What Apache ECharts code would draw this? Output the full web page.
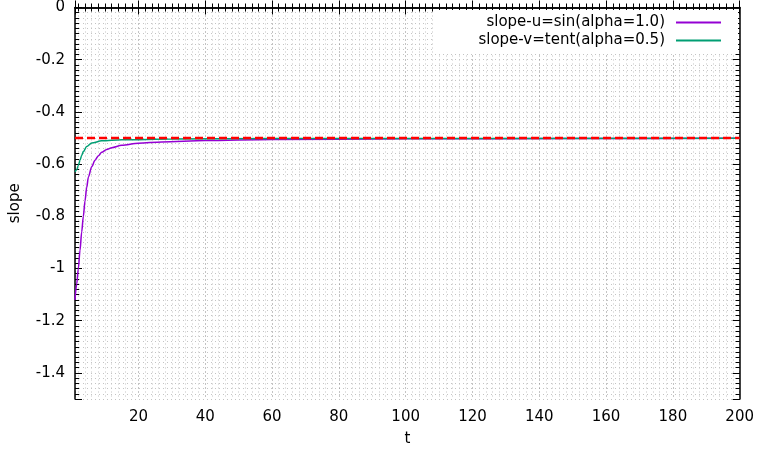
<!DOCTYPE html>
<html>
<head>
<meta charset="utf-8">
<script src="https://cdn.jsdelivr.net/npm/echarts@6/dist/echarts.min.js"></script>
<style>
html, body { margin: 0; padding: 0; background: #fff; }
#main { width: 757px; height: 452px; }
</style>
</head>
<body>
<div id="main"></div>
<script>
// 图例名称
var seriesNames = ['slope-u=sin(alpha=1.0)', 'slope-v=tent(alpha=0.5)'];

// slope-u 曲线 (紫色)
var tU = [1, 1.5, 2, 2.5, 3, 3.5, 4, 4.5, 5, 6, 7, 8, 9, 10.5, 12, 15, 20, 27, 40, 60, 100, 150, 200];
var slopeU = [-1.12, -1.06, -1.00, -0.93, -0.86, -0.80, -0.74, -0.69, -0.65, -0.610, -0.585, -0.568, -0.555, -0.544, -0.537, -0.528, -0.520, -0.515, -0.510, -0.506, -0.503, -0.502, -0.501];

// slope-v 曲线 (绿色)
var tV = [1, 1.5, 2, 2.5, 3, 3.5, 4.5, 6, 9, 15, 30, 60, 200];
var slopeV = [-0.63, -0.622, -0.605, -0.585, -0.567, -0.552, -0.533, -0.519, -0.511, -0.507, -0.504, -0.502, -0.501];

// 参考线 slope = -0.5 (红色虚线)
var refT = [1, 200];
var refSlope = [-0.5, -0.5];

// 坐标轴范围
var tRange = [1, 200];
var slopeRange = [-1.5, 0];

function toPairs(xs, ys) {
	var out = [];
	xs.map(function (x, i) {
		out.push([x, ys[i]]);
	});
	return out;
}

var myChart = echarts.init(document.getElementById('main'));

var fontName = 'DejaVu Sans';
var gridMajor = { type: [1, 3], color: '#888', width: 1 }; // 主网格 点线
var gridMinor = { type: [1, 3], color: '#c4c4c4', width: 1 }; // 次网格 点线
var axisLine = { show: true, lineStyle: { color: '#000', width: 1.5 } };

var option = {
	animation: false,
	backgroundColor: '#fff',
	textStyle: { fontFamily: fontName },
	grid: {
		left: 69,
		right: 16,
		top: 7,
		bottom: 52
	},
	legend: {
		data: seriesNames,
		orient: 'vertical',
		align: 'right',
		right: 19,
		top: 10,
		padding: [5, 17, 5, 44],
		backgroundColor: '#fff',
		icon: 'rect',
		itemWidth: 45,
		itemHeight: 2,
		itemGap: 3,
		textStyle: {
			fontFamily: fontName,
			fontSize: 15,
			color: '#000',
			padding: [0, 6, 0, 0]
		}
	},
	xAxis: [{
		type: 'value',
		position: 'bottom',
		min: tRange[0],
		max: tRange[1],
		splitNumber: 10,
		name: 't',
		nameLocation: 'middle',
		nameGap: 33,
		nameTextStyle: { fontFamily: fontName, fontSize: 15, color: '#000' },
		axisLine: axisLine,
		axisTick: { show: true, inside: true, length: 7, lineStyle: { color: '#000', width: 1 } },
		minorTick: { show: true, splitNumber: 10, length: 4, lineStyle: { color: '#000', width: 1 } },
		axisLabel: {
			margin: 11,
			fontFamily: fontName,
			fontSize: 15,
			color: '#000',
			formatter: function (v) {
				return v === tRange[0] ? '' : v; // 起点1不显示
			}
		},
		splitLine: { show: true, lineStyle: gridMajor },
		minorSplitLine: { show: true, lineStyle: gridMinor }
	}, {
		type: 'value',
		position: 'top',
		min: tRange[0],
		max: tRange[1],
		splitNumber: 10,
		axisLine: axisLine,
		axisTick: { show: true, inside: true, length: 7, lineStyle: { color: '#000', width: 1 } },
		minorTick: { show: true, splitNumber: 10, length: 4, lineStyle: { color: '#000', width: 1 } },
		axisLabel: { show: false },
		splitLine: { show: false }
	}],
	yAxis: [{
		type: 'value',
		position: 'left',
		min: slopeRange[0],
		max: slopeRange[1],
		splitNumber: 8,
		name: 'slope',
		nameLocation: 'middle',
		nameGap: 52,
		nameTextStyle: { fontFamily: fontName, fontSize: 15, color: '#000' },
		axisLine: axisLine,
		axisTick: { show: true, inside: true, length: 7, lineStyle: { color: '#000', width: 1 } },
		axisLabel: {
			margin: 10,
			fontFamily: fontName,
			fontSize: 15,
			color: '#000',
			formatter: function (v) {
				return v === slopeRange[0] ? '' : v; // -1.5 不显示
			}
		},
		splitLine: { show: true, lineStyle: gridMajor }
	}, {
		// 次刻度 每0.02
		type: 'value',
		position: 'left',
		min: slopeRange[0],
		max: slopeRange[1],
		interval: 0.02,
		axisLine: { show: false },
		axisTick: { show: true, inside: true, length: 4, lineStyle: { color: '#000', width: 1 } },
		axisLabel: { show: false },
		splitLine: { show: true, lineStyle: gridMinor }
	}, {
		type: 'value',
		position: 'right',
		min: slopeRange[0],
		max: slopeRange[1],
		splitNumber: 8,
		axisLine: axisLine,
		axisTick: { show: true, inside: true, length: 7, lineStyle: { color: '#000', width: 1 } },
		axisLabel: { show: false },
		splitLine: { show: false }
	}, {
		type: 'value',
		position: 'right',
		min: slopeRange[0],
		max: slopeRange[1],
		interval: 0.02,
		axisLine: { show: false },
		axisTick: { show: true, inside: true, length: 4, lineStyle: { color: '#000', width: 1 } },
		axisLabel: { show: false },
		splitLine: { show: false }
	}],
	series: [{
		name: seriesNames[0],
		type: 'line',
		xAxisIndex: 0,
		yAxisIndex: 0,
		data: toPairs(tU, slopeU),
		symbol: 'none',
		smooth: 0.3,
		smoothMonotone: 'x',
		lineStyle: { color: '#9400d3', width: 1.5 },
		itemStyle: { color: '#9400d3' },
		z: 3
	}, {
		name: seriesNames[1],
		type: 'line',
		xAxisIndex: 0,
		yAxisIndex: 0,
		data: toPairs(tV, slopeV),
		symbol: 'none',
		smooth: 0.3,
		smoothMonotone: 'x',
		lineStyle: { color: '#009e73', width: 1.5 },
		itemStyle: { color: '#009e73' },
		z: 4
	}, {
		name: 'ref',
		type: 'line',
		xAxisIndex: 0,
		yAxisIndex: 0,
		data: toPairs(refT, refSlope),
		symbol: 'none',
		lineStyle: { color: '#ff0000', width: 2.5, type: [8, 4] },
		itemStyle: { color: '#ff0000' },
		z: 5
	}]
};

myChart.setOption(option);
</script>
</body>
</html>
